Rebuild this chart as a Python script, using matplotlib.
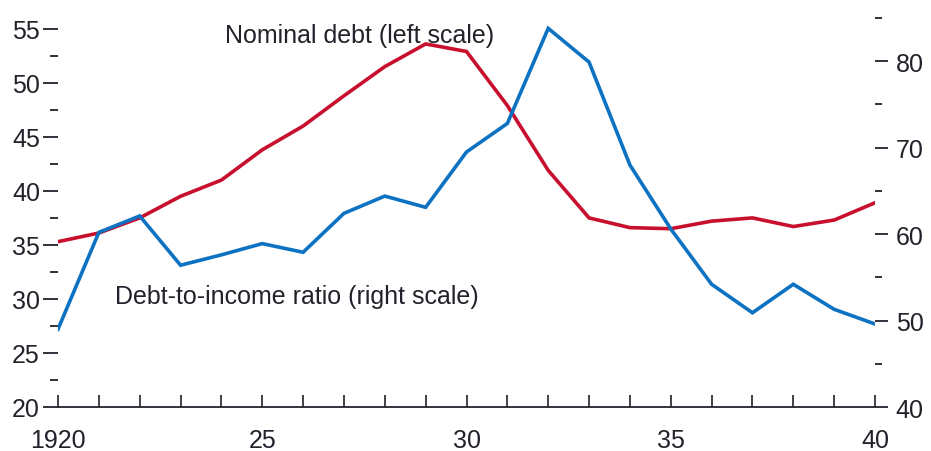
import numpy as np
import matplotlib
matplotlib.use("Agg")
import matplotlib.pyplot as plt
from matplotlib.ticker import FixedLocator, FuncFormatter, MultipleLocator

plt.rcParams['font.family'] = ['Liberation Sans Narrow', 'Liberation Sans', 'DejaVu Sans']

years = list(range(1920, 1941))
nominal_debt = [35.3, 36.1, 37.5, 39.5, 41.0, 43.8, 46.0, 48.8, 51.5, 53.6, 52.9,
                47.9, 41.9, 37.5, 36.6, 36.5, 37.2, 37.5, 36.7, 37.3, 38.9]
debt_to_income = [49.0, 60.2, 62.1, 56.4, 57.6, 58.9, 57.9, 62.4, 64.4, 63.1, 69.5,
                  72.8, 83.8, 79.9, 68.0, 60.6, 54.2, 50.9, 54.2, 51.3, 49.6]

RED = "#c8102e"
BLUE = "#0d72c1"
TXT = "#23212a"
FS = 18

fig = plt.figure(figsize=(9.31, 4.52), dpi=100)
ax = fig.add_axes([58/931, 1 - 408/452, (875 - 58)/931, (408 - 19)/452])
ax2 = ax.twinx()

ax.plot(years, nominal_debt, color=RED, lw=2.6, solid_joinstyle='miter')
ax2.plot(years, debt_to_income, color=BLUE, lw=2.6, solid_joinstyle='miter')

ax.set_xlim(1920, 1940)
ax.set_ylim(20, 56)
ax2.set_ylim(40, 85)

for a in (ax, ax2):
    for s in ('top', 'left', 'right', 'bottom'):
        a.spines[s].set_visible(False)
ax.spines['bottom'].set_visible(True)
ax.spines['bottom'].set_color(TXT)
ax.spines['bottom'].set_linewidth(1.3)

# x axis: tick every year, label every 5
ax.xaxis.set_major_locator(FixedLocator(years))
ax.xaxis.set_major_formatter(FuncFormatter(
    lambda v, p: ("1920" if int(round(v)) == 1920 else f"{int(round(v)) % 100}")
    if int(round(v)) % 5 == 0 else ""))
ax.tick_params(axis='x', direction='in', length=9, width=1.2, color=TXT,
               labelsize=FS, labelcolor=TXT, pad=15)

# left axis
ax.yaxis.set_major_locator(MultipleLocator(5))
ax.yaxis.set_minor_locator(MultipleLocator(2.5))
ax.tick_params(axis='y', which='major', direction='out', length=11, width=1.3,
               color=TXT, labelsize=FS, labelcolor=TXT, pad=2)
ax.tick_params(axis='y', which='minor', direction='out', length=6, width=1.3, color=TXT)

# right axis
ax2.yaxis.set_major_locator(MultipleLocator(10))
ax2.yaxis.set_minor_locator(MultipleLocator(5))
ax2.tick_params(axis='y', which='major', direction='out', length=9, width=1.3,
                color=TXT, labelsize=FS, labelcolor=TXT, pad=6)
ax2.tick_params(axis='y', which='minor', direction='out', length=5, width=1.3, color=TXT)

ax.text(1924.1, 54.4, "Nominal debt (left scale)", fontsize=FS, color=TXT,
        ha='left', va='center')
ax.text(1921.4, 30.3, "Debt-to-income ratio (right scale)", fontsize=FS, color=TXT,
        ha='left', va='center')

fig.savefig("out.png", dpi=100)
